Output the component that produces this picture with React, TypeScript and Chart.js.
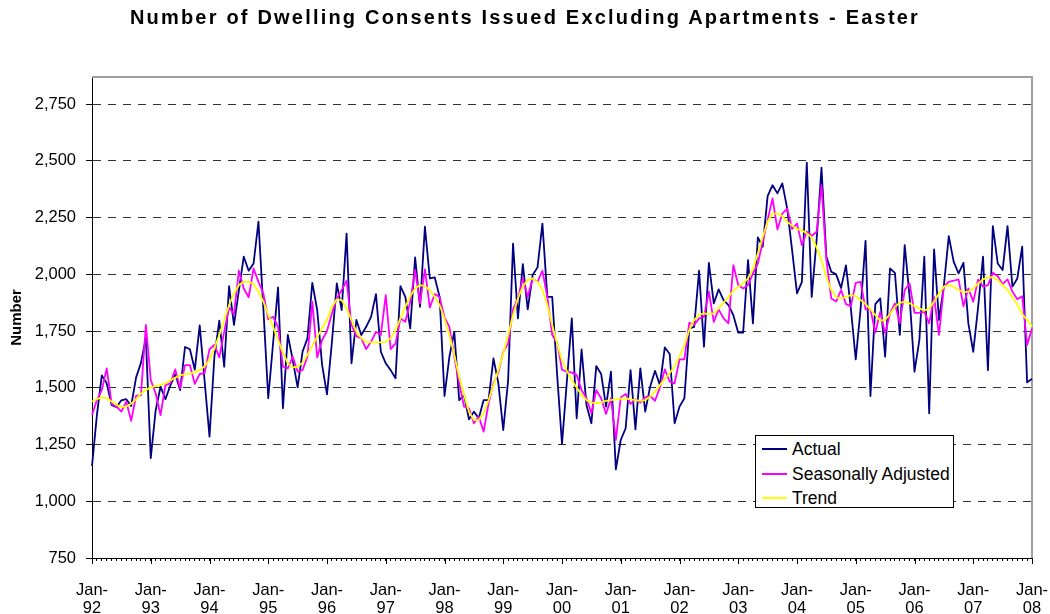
import React, { useEffect, useRef } from 'react';
import { Chart, registerables } from 'chart.js';

Chart.register(...registerables);

const FONT = '"Liberation Sans", Arial, Helvetica, sans-serif';

const TITLE = 'Number of Dwelling Consents Issued Excluding Apartments - Easter';
const Y_TITLE = 'Number';
const START_YEAR = 1992;
const MONTH_NAMES = ['Jan', 'Feb', 'Mar', 'Apr', 'May', 'Jun', 'Jul', 'Aug', 'Sep', 'Oct', 'Nov', 'Dec'];
const YEAR_TICKS = ['92', '93', '94', '95', '96', '97', '98', '99', '00', '01', '02', '03', '04', '05', '06', '07', '08'];
const Y_MIN = 750;
const Y_MAX = 2870;
const Y_STEP = 250;

const SERIES_NAMES = ['Actual', 'Seasonally Adjusted', 'Trend'];
const SERIES_COLORS = ['#000080', '#FF00FF', '#FFFF00'];

const ACTUAL = [
  1155, 1380, 1555, 1520, 1425, 1415, 1445, 1450, 1420, 1545, 1610, 1720,
  1190, 1400, 1505, 1450, 1510, 1560, 1490, 1680, 1670, 1580, 1775, 1530,
  1285, 1637, 1796, 1593, 1948, 1777, 1930, 2078, 2016, 2048, 2232, 1850,
  1454, 1700, 1943, 1410, 1733, 1623, 1502, 1659, 1718, 1963, 1843, 1601,
  1471, 1700, 1960, 1843, 2180, 1608, 1799, 1733, 1769, 1813, 1913, 1659,
  1608, 1578, 1542, 1948, 1901, 1762, 2075, 1857, 2210, 1982, 1987, 1901,
  1464, 1637, 1747, 1446, 1468, 1361, 1395, 1366, 1446, 1446, 1630, 1520,
  1314, 1534, 2136, 1806, 2045, 1846, 1997, 2031, 2224, 1901, 1901, 1560,
  1253, 1530, 1806, 1366, 1669, 1424, 1344, 1596, 1561, 1417, 1571, 1141,
  1270, 1322, 1578, 1317, 1586, 1395, 1505, 1575, 1512, 1678, 1649, 1344,
  1417, 1454, 1762, 1769, 2016, 1681, 2051, 1872, 1934, 1887, 1865, 1820,
  1743, 1743, 2063, 1784, 2163, 2122, 2345, 2393, 2357, 2401, 2290, 2107,
  1916, 1967, 2492, 1901, 2150, 2470, 2078, 2012, 2000, 1940, 2040, 1850,
  1625, 1850, 2148, 1464, 1869, 1894, 1637, 2026, 2007, 1733, 2129, 1901,
  1571, 1711, 2078, 1388, 2110, 1799, 1950, 2169, 2056, 2004, 2051, 1784,
  1659, 1857, 2078, 1578, 2213, 2048, 2019, 2213, 1946, 1982, 2122, 1524,
  1540,
];

const SEASONALLY_ADJUSTED = [
  1380, 1446, 1490, 1586, 1431, 1417, 1395, 1439, 1355, 1464, 1468, 1777,
  1534, 1476, 1380, 1512, 1520, 1581, 1498, 1600, 1600, 1517, 1561, 1565,
  1670, 1689, 1634, 1747, 1854, 1825, 2016, 1938, 1899, 2026, 1967, 1916,
  1802, 1813, 1769, 1593, 1586, 1637, 1571, 1578, 1637, 1880, 1634, 1711,
  1750, 1828, 1894, 1931, 1972, 1777, 1728, 1718, 1671, 1703, 1747, 1733,
  1909, 1671, 1696, 1806, 1791, 1880, 2019, 1872, 2022, 1854, 1913, 1901,
  1810, 1769, 1637, 1520, 1417, 1410, 1344, 1373, 1307, 1432, 1520, 1567,
  1659, 1696, 1846, 1894, 1982, 1901, 1982, 1967, 2016, 1901, 1733, 1700,
  1580, 1571, 1567, 1556, 1490, 1454, 1388, 1490, 1454, 1385, 1454, 1270,
  1458, 1473, 1429, 1449, 1435, 1458, 1464, 1443, 1502, 1581, 1527, 1520,
  1625, 1625, 1787, 1777, 1806, 1813, 1924, 1791, 1846, 1806, 1784, 2041,
  1953, 1938, 1953, 2004, 2048, 2144, 2239, 2335, 2198, 2268, 2290, 2200,
  2224, 2129, 2188, 2169, 2188, 2393, 2063, 1894, 1880, 1931, 1869, 1860,
  1963, 1967, 1846, 1846, 1743, 1835, 1740, 1828, 1872, 1784, 1931, 1960,
  1830, 1831, 1835, 1784, 1901, 1733, 1946, 1967, 1972, 1978, 1860, 1938,
  1880, 1978, 1946, 1953, 2007, 1992, 1957, 1978, 1924, 1890, 1904, 1689,
  1762,
];

const TREND = [
  1440, 1450, 1458, 1455, 1440, 1425, 1415, 1418, 1430, 1450, 1475, 1490,
  1502, 1508, 1513, 1520, 1533, 1545, 1555, 1560, 1563, 1568, 1578, 1595,
  1625, 1674, 1733, 1799, 1865, 1916, 1953, 1967, 1967, 1957, 1924, 1880,
  1821, 1769, 1711, 1655, 1608, 1590, 1593, 1611, 1645, 1684, 1725, 1762,
  1800, 1857, 1890, 1887, 1850, 1799, 1747, 1718, 1703, 1700, 1700, 1700,
  1703, 1718, 1755, 1806, 1857, 1904, 1938, 1953, 1948, 1931, 1901, 1865,
  1805, 1733, 1645, 1549, 1468, 1395, 1358, 1358, 1388, 1446, 1512, 1578,
  1652, 1733, 1821, 1894, 1946, 1975, 1982, 1967, 1931, 1865, 1777, 1695,
  1620, 1575, 1534, 1502, 1468, 1446, 1435, 1432, 1435, 1443, 1446, 1449,
  1452, 1454, 1449, 1446, 1443, 1446, 1461, 1483, 1512, 1540, 1565, 1595,
  1640, 1689, 1755, 1799, 1821, 1828, 1825, 1828, 1850, 1875, 1901, 1928,
  1946, 1960, 1982, 2026, 2092, 2166, 2232, 2268, 2268, 2257, 2232, 2215,
  2200, 2195, 2180, 2163, 2119, 2063, 1989, 1931, 1899, 1894, 1901, 1909,
  1904, 1887, 1869, 1846, 1821, 1796, 1799, 1825, 1857, 1875, 1880, 1873,
  1860, 1850, 1840, 1850, 1880, 1916, 1946, 1953, 1946, 1931, 1921, 1924,
  1938, 1960, 1978, 1987, 1987, 1975, 1953, 1931, 1901, 1865, 1825, 1799,
  1772,
];

const CATEGORIES = ACTUAL.map((_, i) => {
  const y = START_YEAR + Math.floor(i / 12);
  return `${MONTH_NAMES[i % 12]}-${String(y % 100).padStart(2, '0')}`;
});

const SERIES_DATA = [ACTUAL, SEASONALLY_ADJUSTED, TREND];

const framePlugin = {
  id: 'frame',
  beforeDatasetsDraw(chart: any) {
    const { ctx, chartArea } = chart;
    const { left, right, top, bottom } = chartArea;
    ctx.save();
    ctx.strokeStyle = '#a0a0a0';
    ctx.lineWidth = 2;
    ctx.beginPath();
    ctx.moveTo(left, top);
    ctx.lineTo(right, top);
    ctx.lineTo(right, bottom);
    ctx.stroke();
    ctx.restore();
  },
  afterDraw(chart: any) {
    const { ctx, chartArea } = chart;
    const xs = chart.scales.x;
    ctx.save();
    ctx.strokeStyle = '#000';
    ctx.lineWidth = 1;
    ctx.beginPath();
    for (let i = 0; i < CATEGORIES.length; i += 12) {
      const px = Math.round(xs.getPixelForValue(i)) + 0.5;
      ctx.moveTo(px, chartArea.bottom);
      ctx.lineTo(px, chartArea.bottom + 6);
    }
    ctx.stroke();
    ctx.restore();
  },
};

function ChartCanvas() {
  const ref = useRef<HTMLCanvasElement | null>(null);
  useEffect(() => {
    if (!ref.current) return;
    const chart = new Chart(ref.current, {
      type: 'line',
      data: {
        labels: CATEGORIES,
        datasets: SERIES_NAMES.map((name, i) => ({
          label: name,
          data: SERIES_DATA[i],
          borderColor: SERIES_COLORS[i],
          backgroundColor: SERIES_COLORS[i],
          borderWidth: 1.8,
          pointRadius: 0,
          pointHoverRadius: 0,
          tension: 0,
          fill: false,
          borderJoinStyle: 'round' as const,
          order: 2 - i,
        })),
      },
      options: {
        responsive: false,
        animation: false,
        devicePixelRatio: 1,
        events: [],
        layout: { padding: { top: 77, right: 18, bottom: 0, left: 0 } },
        plugins: {
          legend: { display: false },
          tooltip: { enabled: false },
          title: { display: false },
        },
        scales: {
          x: {
            type: 'category',
            offset: false,
            afterFit: (scale: any) => {
              scale.height = 56;
              scale.paddingLeft = 0;
              scale.paddingRight = 0;
            },
            grid: {
              display: true,
              drawOnChartArea: false,
              drawTicks: true,
              tickLength: 3,
              tickColor: '#000',
              tickWidth: 1,
            },
            border: { display: true, color: '#000', width: 1 },
            ticks: {
              autoSkip: false,
              maxRotation: 0,
              minRotation: 0,
              padding: 20,
              color: '#000',
              font: { family: FONT, size: 16.5, lineHeight: 18 / 16.5 },
              callback: (_v: any, idx: number) =>
                idx % 12 === 0 ? ['Jan-', YEAR_TICKS[idx / 12]] : '',
            },
          },
          y: {
            type: 'linear',
            min: Y_MIN,
            max: Y_MAX,
            afterFit: (scale: any) => {
              scale.width = 92;
              scale.paddingTop = 0;
              scale.paddingBottom = 0;
            },
            afterBuildTicks: (scale: any) => {
              scale.ticks = scale.ticks.filter((t: any) => t.value % Y_STEP === 0);
            },
            grid: {
              color: '#333',
              lineWidth: 1,
              drawTicks: true,
              tickLength: 6,
              tickColor: '#000',
            },
            border: { display: true, color: '#000', width: 1, dash: [8, 7] },
            title: {
              display: true,
              text: Y_TITLE,
              color: '#000',
              font: { family: FONT, size: 15, weight: 'bold' },
              padding: { top: 8, bottom: 0 },
            },
            ticks: {
              stepSize: Y_STEP,
              padding: 10,
              color: '#000',
              font: { family: FONT, size: 16.5 },
              callback: (v: any) => Number(v).toLocaleString('en-US'),
            },
          },
        },
      },
      plugins: [framePlugin],
    } as any);
    return () => chart.destroy();
  }, []);
  return <canvas ref={ref} width={1050} height={614} style={{ width: 1050, height: 614, display: 'block' }} />;
}

export default function App() {
  return (
    <div style={{ position: 'absolute', left: 0, top: 0, width: 1050, height: 614, background: '#fff', overflow: 'hidden' }}>
      <ChartCanvas />
      <div
        style={{
          position: 'absolute',
          left: 0,
          top: 6,
          width: 1050,
          textAlign: 'center',
          font: `bold 20px ${FONT}`,
          letterSpacing: '2.2px',
          color: '#000',
          whiteSpace: 'nowrap',
        }}
      >
        {TITLE}
      </div>
      <div
        style={{
          position: 'absolute',
          left: 755,
          top: 435,
          width: 199,
          height: 73,
          boxSizing: 'border-box',
          border: '1px solid #000',
          background: '#fff',
          font: `17.5px ${FONT}`,
          color: '#000',
        }}
      >
        {SERIES_NAMES.map((name, i) => (
          <div key={name} style={{ position: 'absolute', left: 0, top: 1 + i * 24.5, height: 24, width: '100%' }}>
            <div style={{ position: 'absolute', left: 6, top: 11, width: 25, height: 2, background: SERIES_COLORS[i] }} />
            <div style={{ position: 'absolute', left: 36, top: 2, lineHeight: '20px', whiteSpace: 'nowrap' }}>{name}</div>
          </div>
        ))}
      </div>
    </div>
  );
}
